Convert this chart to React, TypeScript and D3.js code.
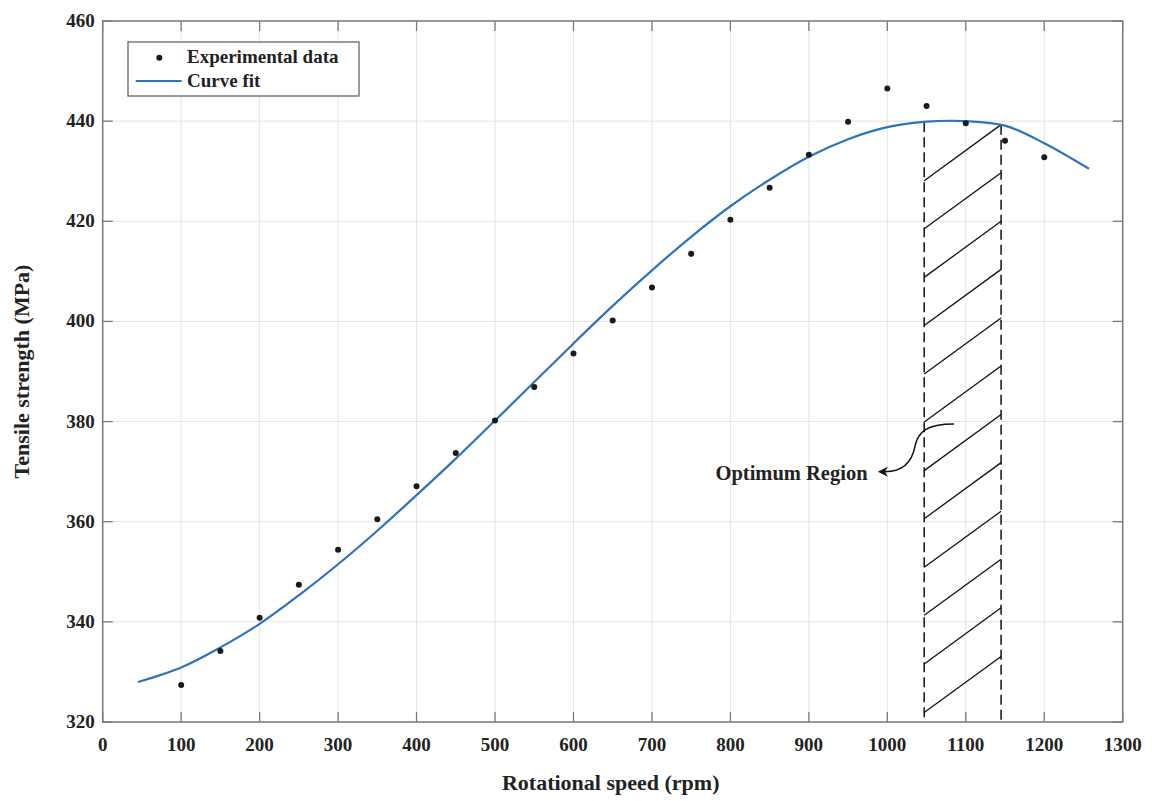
import React from "react";
import * as d3 from "d3";

const W = 1152;
const H = 801;

// Experimental data
const speeds = [100, 150, 200, 250, 300, 350, 400, 450, 500, 550, 600, 650, 700, 750, 800, 850, 900, 950, 1000, 1050, 1100, 1150, 1200];
const strengths = [327.4, 334.2, 340.8, 347.4, 354.4, 360.5, 367.1, 373.7, 380.2, 386.9, 393.6, 400.2, 406.8, 413.5, 420.3, 426.7, 433.3, 439.9, 446.5, 443.0, 439.6, 436.1, 432.8];

// Curve fit
const fitSpeeds = [45, 100, 150, 200, 250, 300, 350, 400, 450, 500, 550, 600, 650, 700, 750, 800, 850, 900, 950, 1000, 1050, 1100, 1150, 1200, 1257];
const fitStrengths = [328.0, 330.9, 334.9, 339.6, 345.3, 351.5, 358.2, 365.3, 372.6, 380.2, 387.9, 395.6, 403.1, 410.2, 416.9, 423.0, 428.3, 432.9, 436.4, 438.8, 439.9, 440.0, 439.1, 435.6, 430.5];

// Ticks
const xTicks = [0, 100, 200, 300, 400, 500, 600, 700, 800, 900, 1000, 1100, 1200, 1300];
const yTicks = [320, 340, 360, 380, 400, 420, 440, 460];

// Optimum region
const regionX = [1047, 1145];
const regionTop = [439.8, 439.3];
const hatchLeftY = [428.1, 418.5, 408.8, 399.2, 389.5, 379.9, 370.2, 360.6, 350.9, 341.3, 331.6, 321.9];
const hatchRise = 11.2;

// Annotation (data coords): arrow start, arrow tip, label anchor
const arrowStart = [1085, 379.5];
const arrowTip = [988, 370.0];
const labelAt = [781, 368.3];

const FONT = "'Liberation Serif', 'Times New Roman', serif";
const BLUE = "#2f72bd";

export default function App() {
  const x = d3.scaleLinear().domain([0, 1300]).range([102.7, 1122.7]);
  const y = d3.scaleLinear().domain([320, 460]).range([722, 21]);
  const [x0, x1] = x.range();
  const [yb, yt] = y.range();

  const fitLine = d3
    .line<number>()
    .x((_, i) => x(fitSpeeds[i]))
    .y((d) => y(d))
    .curve(d3.curveCatmullRom.alpha(0.5));

  const tickLen = 10;
  const axisColor = "#7a7a7a";
  const gridColor = "#e4e4e4";

  const sx = x(arrowStart[0]);
  const sy = y(arrowStart[1]);
  const tx = x(arrowTip[0]);
  const ty = y(arrowTip[1]);
  const arrowPath = `M${sx},${sy} C${sx - 28},${sy} ${sx - 36},${sy + 8} ${sx - 39},${sy + 22} C${sx - 42},${sy + 38} ${sx - 52},${ty} ${tx + 7},${ty}`;

  return (
    <svg
      width={W}
      height={H}
      style={{ position: "absolute", left: 0, top: 0, background: "#fff" }}
      fontFamily={FONT}
    >
      <rect x={0} y={0} width={W} height={H} fill="#fff" />
      {/* grid */}
      {xTicks.map((t) => (
        <line key={"gx" + t} x1={x(t)} x2={x(t)} y1={yb} y2={yt} stroke={gridColor} strokeWidth={1} />
      ))}
      {yTicks.map((t) => (
        <line key={"gy" + t} x1={x0} x2={x1} y1={y(t)} y2={y(t)} stroke={gridColor} strokeWidth={1} />
      ))}

      {/* optimum region */}
      {regionX.map((rx, i) => (
        <line
          key={"rd" + i}
          x1={x(rx)}
          x2={x(rx)}
          y1={y(regionTop[i])}
          y2={yb}
          stroke="#111"
          strokeWidth={1.5}
          strokeDasharray="10,5"
        />
      ))}
      {hatchLeftY.map((v, i) => (
        <line
          key={"h" + i}
          x1={x(regionX[0])}
          y1={y(v)}
          x2={x(regionX[1])}
          y2={y(v + hatchRise)}
          stroke="#111"
          strokeWidth={1.3}
        />
      ))}

      {/* annotation */}
      <path d={arrowPath} fill="none" stroke="#111" strokeWidth={1.5} />
      <path
        d={`M${tx},${ty} L${tx + 10},${ty - 5} L${tx + 7},${ty} L${tx + 10},${ty + 5} Z`}
        fill="#111"
      />
      <text x={x(labelAt[0])} y={y(labelAt[1])} fontSize={20.5} fontWeight="bold" fill="#222">
        Optimum Region
      </text>

      {/* curve fit */}
      <path d={fitLine(fitStrengths) || ""} fill="none" stroke={BLUE} strokeWidth={2.2} />

      {/* data points */}
      {speeds.map((s, i) => (
        <circle key={"p" + s} cx={x(s)} cy={y(strengths[i])} r={3} fill="#1a1a1a" />
      ))}

      {/* axes box */}
      <rect x={x0} y={yt} width={x1 - x0} height={yb - yt} fill="none" stroke={axisColor} strokeWidth={1.5} />
      {xTicks.map((t) => (
        <g key={"tx" + t}>
          <line x1={x(t)} x2={x(t)} y1={yb} y2={yb - tickLen} stroke={axisColor} strokeWidth={1.3} />
          <line x1={x(t)} x2={x(t)} y1={yt} y2={yt + tickLen} stroke={axisColor} strokeWidth={1.3} />
          <text x={x(t)} y={yb + 29} textAnchor="middle" fontSize={19} fontWeight="bold" fill="#222">
            {t}
          </text>
        </g>
      ))}
      {yTicks.map((t) => (
        <g key={"ty" + t}>
          <line x1={x0} x2={x0 + tickLen} y1={y(t)} y2={y(t)} stroke={axisColor} strokeWidth={1.3} />
          <line x1={x1} x2={x1 - tickLen} y1={y(t)} y2={y(t)} stroke={axisColor} strokeWidth={1.3} />
          <text x={x0 - 8} y={y(t) + 6} textAnchor="end" fontSize={19} fontWeight="bold" fill="#222">
            {t}
          </text>
        </g>
      ))}

      {/* axis titles */}
      <text x={(x0 + x1) / 2 - 2} y={790} textAnchor="middle" fontSize={22} fontWeight="bold" fill="#222">
        Rotational speed (rpm)
      </text>
      <text
        transform={`translate(29,${(yb + yt) / 2}) rotate(-90)`}
        textAnchor="middle"
        fontSize={22}
        fontWeight="bold"
        fill="#222"
      >
        Tensile strength (MPa)
      </text>

      {/* legend */}
      <g>
        <rect x={128} y={42} width={231} height={54} fill="#fff" stroke="#666" strokeWidth={1.3} />
        <circle cx={159.3} cy={57.7} r={3} fill="#1a1a1a" />
        <line x1={135.7} x2={181.7} y1={81} y2={81} stroke={BLUE} strokeWidth={2.2} />
        <text x={187} y={63} fontSize={19} fontWeight="bold" fill="#222">
          Experimental data
        </text>
        <text x={187} y={87} fontSize={19} fontWeight="bold" fill="#222">
          Curve fit
        </text>
      </g>
    </svg>
  );
}
